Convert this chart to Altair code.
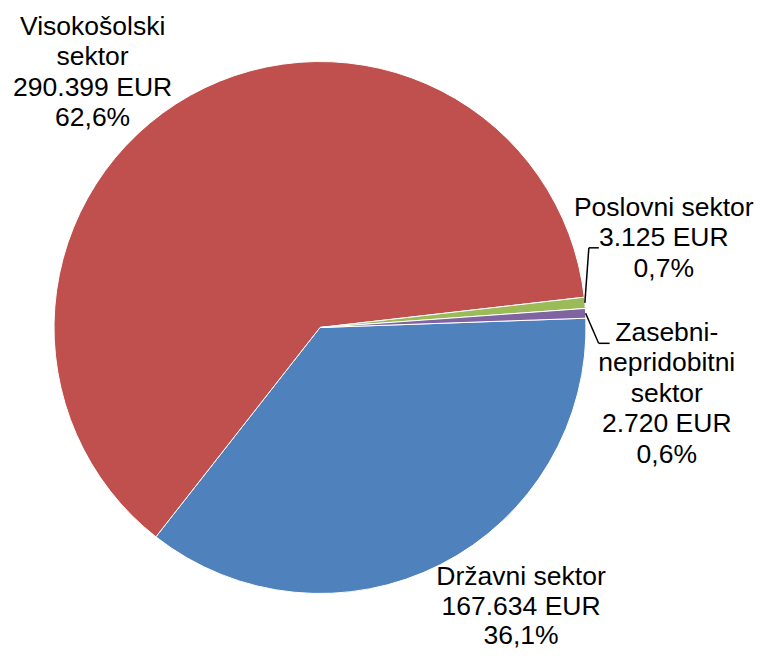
import math
import altair as alt
import pandas as pd

categories = ["Državni sektor", "Visokošolski sektor", "Poslovni sektor", "Zasebni-nepridobitni sektor"]
values = [167634, 290399, 3125, 2720]
name_lines = ["Državni sektor", "Visokošolski\nsektor", "Poslovni sektor", "Zasebni-\nnepridobitni\nsektor"]
colors = ["#4F81BD", "#C0504D", "#9BBB59", "#8064A2"]

total = sum(values)


def fmt_int(v):
    return f"{v:,}".replace(",", ".")


def fmt_pct(v):
    return f"{100 * v / total:.1f}".replace(".", ",") + "%"


labels = [f"{n}\n{fmt_int(v)} EUR\n{fmt_pct(v)}" for n, v in zip(name_lines, values)]

df = pd.DataFrame({"ord": list(range(len(values))), "cat": categories, "value": values, "label": labels})

START = math.radians(88)
W, H = 624, 639
CX, CY = W / 2, H / 2
R = 266
LH = 30.5

theta_scale = alt.Scale(range=[START, START + 2 * math.pi], zero=True, nice=False)

pie = alt.Chart(df).mark_arc(outerRadius=R, stroke="white", strokeWidth=1).encode(
    theta=alt.Theta("value:Q", stack=True, scale=theta_scale),
    color=alt.Color("cat:N", scale=alt.Scale(domain=categories, range=colors), legend=None),
    order=alt.Order("ord:Q"),
)

base = (
    alt.Chart(df)
    .transform_joinaggregate(total="sum(value)")
    .transform_window(cum="sum(value)", sort=[alt.SortField("ord")], frame=[None, 0])
    .transform_calculate(mid="datum.cum - datum.value / 2")
)

# label placement: (radius, theta offset deg, extra dx, extra dy, line height)
label_pos = {
    "Državni sektor": (349.6, -8.15, 0, -7, 29.5),
    "Visokošolski sektor": (341.7, -12.5, 0, 0, LH),
    "Poslovni sektor": (361, -9.0, -6, 0, LH),
    "Zasebni-nepridobitni sektor": (353, 13.85, 0, 0, LH),
}

texts = []
for cat, lab in zip(categories, labels):
    r, off, ex, ey, lh = label_pos[cat]
    n_lines = lab.count("\n") + 1
    t = base.transform_filter(alt.datum.cat == cat).mark_text(
        radius=r,
        thetaOffset=math.radians(off),
        dx=ex,
        dy=-(n_lines - 1) / 2 * lh + ey,
        align="center",
        baseline="middle",
        lineBreak="\n",
        lineHeight=lh,
        font="Liberation Sans",
        fontSize=26.5,
        color="black",
    ).encode(
        theta=alt.Theta("mid:Q", stack=None),
        text="label:N",
    )
    texts.append(t)

leader = base.transform_filter(
    alt.FieldOneOfPredicate(field="cat", oneOf=categories[2:])
).transform_calculate(
    ang=f"{START} + 2 * PI * datum.mid / datum.total",
    ax=f"{CX} + {R} * sin(datum.ang)",
    ay=f"{CY} - {R} * cos(datum.ang)",
    bx="datum.ax + (datum.ord == 2 ? 4 : 13)",
    by="datum.ay + (datum.ord == 2 ? -55 : 30)",
    cx="datum.bx + (datum.ord == 2 ? 10 : 11)",
)

seg1 = leader.mark_rule(color="black", strokeWidth=1.5).encode(
    x=alt.X("ax:Q", scale=None),
    y=alt.Y("ay:Q", scale=None),
    x2="bx:Q",
    y2="by:Q",
)
seg2 = leader.mark_rule(color="black", strokeWidth=1.5).encode(
    x=alt.X("bx:Q", scale=None),
    y=alt.Y("by:Q", scale=None),
    x2="cx:Q",
    y2="by:Q",
)

chart = alt.layer(pie, *texts, seg1, seg2).properties(
    width=W,
    height=H,
    autosize="none",
    padding={"left": 0, "top": 0, "right": 749 - W, "bottom": 641 - H},
    background="white",
).configure_view(stroke=None)

chart.save("out.html", embed_options={"renderer": "svg", "actions": False})
